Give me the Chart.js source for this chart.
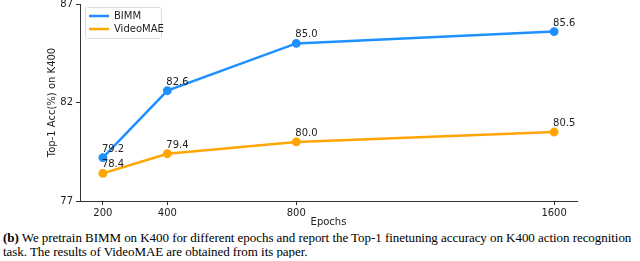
<!DOCTYPE html>
<html>
<head>
<meta charset="utf-8">
<script src="https://cdn.jsdelivr.net/npm/chart.js@4/dist/chart.umd.min.js"></script>
<style>
  body { margin: 0; background: #fff; overflow: hidden; }
  #wrap { position: relative; width: 640px; height: 233px; margin-top: -5px; }
  #caption {
    font-family: "Liberation Serif", "Times New Roman", serif;
    font-size: 13px; line-height: 13.5px; color: #000;
    margin: 3px 0 0 3px; white-space: nowrap; letter-spacing: -0.05px;
  }
</style>
</head>
<body>
<div id="wrap"><canvas id="chart"></canvas></div>
<div id="caption"><b>(b)</b> We pretrain BIMM on K400 for different epochs and report the Top-1 finetuning accuracy on K400 action recognition<br>task. The results of VideoMAE are obtained from its paper.</div>
<script>
const epochs = [200, 400, 800, 1600];
const bimm = [79.2, 82.6, 85.0, 85.6];
const videomae = [78.4, 79.4, 80.0, 80.5];
const yTicks = [77, 82, 87];

const toPoints = (vals) => vals.map((v, i) => ({ x: epochs[i], y: v }));

// value labels above each point
const valueLabels = {
  id: "valueLabels",
  afterDatasetsDraw(chart) {
    const ctx = chart.ctx;
    ctx.save();
    ctx.font = "10px 'DejaVu Sans'";
    ctx.fillStyle = "#222";
    ctx.textAlign = "left";
    ctx.textBaseline = "alphabetic";
    chart.data.datasets.forEach((ds, i) => {
      chart.getDatasetMeta(i).data.forEach((pt, j) => {
        ctx.fillText(ds.data[j].y.toFixed(1), pt.x - 1, pt.y - 6);
      });
    });
    ctx.restore();
  },
};

// legend box inside the plot, like matplotlib
const boxLegend = {
  id: "boxLegend",
  afterDraw(chart) {
    const ctx = chart.ctx;
    const a = chart.chartArea;
    const x = a.left + 5, y = a.top + 3, w = 76, h = 31;
    ctx.save();
    ctx.fillStyle = "rgba(255,255,255,0.8)";
    ctx.strokeStyle = "#ddd";
    ctx.lineWidth = 1;
    ctx.beginPath();
    ctx.roundRect(x + 0.5, y + 0.5, w, h, 2);
    ctx.fill();
    ctx.stroke();
    ctx.font = "10px 'DejaVu Sans'";
    ctx.textBaseline = "middle";
    chart.data.datasets.forEach((ds, i) => {
      const ly = y + 9 + i * 13;
      ctx.strokeStyle = ds.borderColor;
      ctx.lineWidth = 2.5;
      ctx.beginPath();
      ctx.moveTo(x + 4, ly);
      ctx.lineTo(x + 24, ly);
      ctx.stroke();
      ctx.fillStyle = "#222";
      ctx.fillText(ds.label, x + 29, ly);
    });
    ctx.restore();
  },
};

new Chart(document.getElementById("chart"), {
  type: "line",
  data: {
    datasets: [
      {
        label: "BIMM",
        data: toPoints(bimm),
        borderColor: "#1E90FF",
        backgroundColor: "#1E90FF",
        borderWidth: 2.5,
        pointRadius: 3.2,
        pointHoverRadius: 3.2,
      },
      {
        label: "VideoMAE",
        data: toPoints(videomae),
        borderColor: "#FFA500",
        backgroundColor: "#FFA500",
        borderWidth: 2.5,
        pointRadius: 3.2,
        pointHoverRadius: 3.2,
      },
    ],
  },
  options: {
    responsive: true,
    maintainAspectRatio: false,
    animation: false,
    layout: { padding: { top: 3, right: 63, left: 46, bottom: 0 } },
    plugins: { legend: { display: false }, tooltip: { enabled: false } },
    scales: {
      x: {
        type: "linear",
        min: 129,
        max: 1671,
        afterBuildTicks: (s) => { s.ticks = epochs.map((v) => ({ value: v })); },
        afterFit: (s) => { s.height = 27; },
        grid: { drawOnChartArea: false, tickLength: 4, color: "#333" },
        border: { color: "#333", width: 1 },
        ticks: { color: "#222", font: { family: "DejaVu Sans", size: 10 }, padding: 2, maxRotation: 0, callback: (v) => String(v) },
        title: { display: true, text: "Epochs", color: "#222", font: { family: "DejaVu Sans", size: 10 }, padding: { top: 3, bottom: 0 } },
      },
      y: {
        min: 77,
        max: 87,
        afterBuildTicks: (s) => { s.ticks = yTicks.map((v) => ({ value: v })); },
        afterFit: (s) => { s.width = 34; },
        grid: { drawOnChartArea: false, tickLength: 4, color: "#333" },
        border: { color: "#333", width: 1 },
        ticks: { color: "#222", font: { family: "DejaVu Sans", size: 10 }, padding: 3 },
        title: { display: true, text: "Top-1 Acc(%) on K400", color: "#222", font: { family: "DejaVu Sans", size: 10 }, padding: 0 },
      },
    },
  },
  plugins: [valueLabels, boxLegend],
});
</script>
</body>
</html>
